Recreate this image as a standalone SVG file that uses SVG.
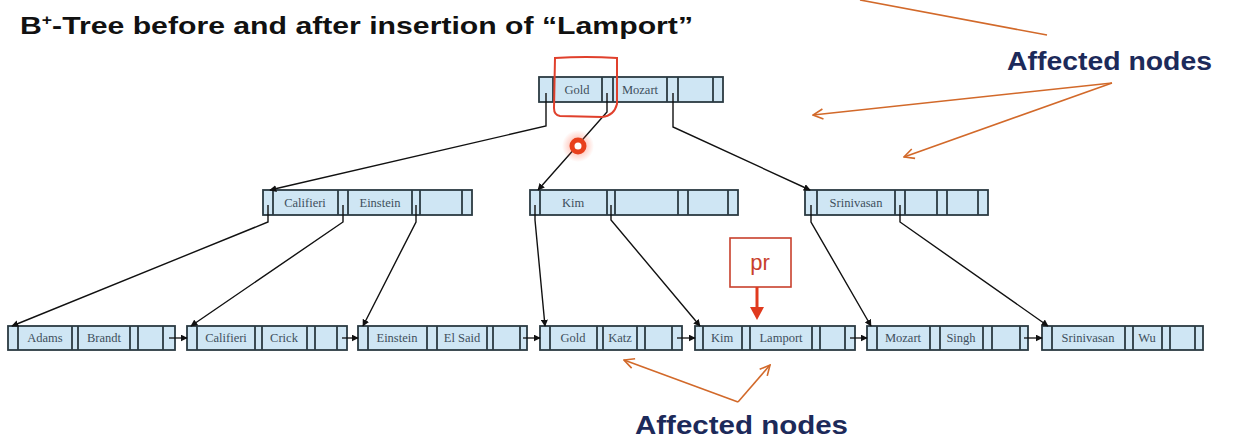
<svg xmlns="http://www.w3.org/2000/svg" width="1246" height="446" viewBox="0 0 1246 446">
<style>
.nb{fill:#cfe6f4;stroke:#2b3a42;stroke-width:1.8}
.dv{stroke:#2b3a42;stroke-width:1.8}
.k{font-family:"Liberation Serif",serif;font-size:12.5px;fill:#3e4f5c;text-anchor:middle}
.e{fill:none;stroke:#111;stroke-width:1.4}
.ln{fill:none;stroke:#111;stroke-width:1.3}
.or{fill:none;stroke:#d2692a;stroke-width:1.6}
.af{font-family:"Liberation Sans",Arial,sans-serif;font-weight:bold;font-size:25px;fill:#1c2a5a}
</style>
<defs>
<marker id="ah" viewBox="0 0 10 10" refX="9" refY="5" markerWidth="7" markerHeight="7" markerUnits="userSpaceOnUse" orient="auto"><path d="M0,0 L10,5 L0,10 Z" fill="#111"/></marker>
<marker id="oh" viewBox="0 0 12 12" refX="11" refY="6" markerWidth="12" markerHeight="12" markerUnits="userSpaceOnUse" orient="auto"><path d="M1,1 L11,6 L1,11" fill="none" stroke="#d2692a" stroke-width="1.6"/></marker>
<radialGradient id="glow"><stop offset="0" stop-color="#ff5533" stop-opacity="0.55"/><stop offset="1" stop-color="#ff5533" stop-opacity="0"/></radialGradient>
</defs>
<rect width="1246" height="446" fill="#fff"/>
<text x="20" y="34" font-family="Liberation Sans,Arial,sans-serif" font-weight="bold" font-size="24" fill="#111" textLength="673" lengthAdjust="spacingAndGlyphs">B<tspan font-size="14" dy="-9">+</tspan><tspan dy="9">-Tree before and after insertion of “Lamport”</tspan></text>

<g id="root">
<rect class="nb" x="539" y="77" width="184" height="25"/>
<path class="dv" d="M553,77V102M602,77V102M613,77V102M667,77V102M678,77V102M713,77V102"/>
<text class="k" x="577" y="94">Gold</text><text class="k" x="640" y="94">Mozart</text>
</g>
<g id="int-califieri">
<rect class="nb" x="263" y="190" width="209" height="25"/>
<path class="dv" d="M273,190V215M338,190V215M348,190V215M412,190V215M420,190V215M462,190V215"/>
<text class="k" x="305" y="207">Califieri</text><text class="k" x="380" y="207">Einstein</text>
</g>
<g id="int-kim">
<rect class="nb" x="530" y="190" width="208" height="25"/>
<path class="dv" d="M540,190V215M607,190V215M615,190V215M678,190V215M688,190V215M728,190V215"/>
<text class="k" x="573" y="207">Kim</text>
</g>
<g id="int-srinivasan">
<rect class="nb" x="805" y="190" width="183" height="25"/>
<path class="dv" d="M817,190V215M895,190V215M905,190V215M937,190V215M947,190V215M978,190V215"/>
<text class="k" x="856" y="207">Srinivasan</text>
</g>

<g id="leaf-adams">
<rect class="nb" x="8" y="326" width="167" height="24"/>
<path class="dv" d="M18,326V350M72,326V350M78,326V350M130,326V350M138,326V350M163,326V350"/>
<text class="k" x="45" y="342">Adams</text><text class="k" x="104" y="342">Brandt</text>
</g>
<g id="leaf-califieri">
<rect class="nb" x="187" y="326" width="160" height="24"/>
<path class="dv" d="M197,326V350M255,326V350M262,326V350M307,326V350M315,326V350M337,326V350"/>
<text class="k" x="226" y="342">Califieri</text><text class="k" x="284" y="342">Crick</text>
</g>
<g id="leaf-einstein">
<rect class="nb" x="358" y="326" width="169" height="24"/>
<path class="dv" d="M368,326V350M427,326V350M437,326V350M487,326V350M493,326V350M520,326V350"/>
<text class="k" x="397" y="342">Einstein</text><text class="k" x="462" y="342">El Said</text>
</g>
<g id="leaf-gold">
<rect class="nb" x="540" y="326" width="142" height="24"/>
<path class="dv" d="M550,326V350M597,326V350M603,326V350M637,326V350M645,326V350M672,326V350"/>
<text class="k" x="573" y="342">Gold</text><text class="k" x="620" y="342">Katz</text>
</g>
<g id="leaf-kim">
<rect class="nb" x="695" y="326" width="160" height="24"/>
<path class="dv" d="M703,326V350M742,326V350M750,326V350M812,326V350M820,326V350M845,326V350"/>
<text class="k" x="722" y="342">Kim</text><text class="k" x="781" y="342">Lamport</text>
</g>
<g id="leaf-mozart">
<rect class="nb" x="867" y="326" width="161" height="24"/>
<path class="dv" d="M877,326V350M930,326V350M940,326V350M983,326V350M992,326V350M1020,326V350"/>
<text class="k" x="903" y="342">Mozart</text><text class="k" x="961" y="342">Singh</text>
</g>
<g id="leaf-srinivasan">
<rect class="nb" x="1042" y="326" width="161" height="24"/>
<path class="dv" d="M1052,326V350M1125,326V350M1133,326V350M1162,326V350M1170,326V350M1195,326V350"/>
<text class="k" x="1088" y="342">Srinivasan</text><text class="k" x="1147" y="342">Wu</text>
</g>

<g id="connectors">
<path class="e" marker-end="url(#ah)" d="M546,93V126L270,190"/>
<path class="e" marker-end="url(#ah)" d="M607,93V112L538,190"/>
<path class="e" marker-end="url(#ah)" d="M673,93V127L810,190"/>
<path class="e" marker-end="url(#ah)" d="M268,205V222L12,326"/>
<path class="e" marker-end="url(#ah)" d="M343,205V222L191,326"/>
<path class="e" marker-end="url(#ah)" d="M416,205V222L363,326"/>
<path class="e" marker-end="url(#ah)" d="M535,205V220L545,326"/>
<path class="e" marker-end="url(#ah)" d="M611,205V220L700,326"/>
<path class="e" marker-end="url(#ah)" d="M811,205V222L871,326"/>
<path class="e" marker-end="url(#ah)" d="M900,205V222L1048,326"/>
<path class="ln" marker-end="url(#ah)" d="M169,338H187"/>
<path class="ln" marker-end="url(#ah)" d="M342,338H358"/>
<path class="ln" marker-end="url(#ah)" d="M523,338H540"/>
<path class="ln" marker-end="url(#ah)" d="M677,338H695"/>
<path class="ln" marker-end="url(#ah)" d="M850,338H867"/>
<path class="ln" marker-end="url(#ah)" d="M1024,338H1042"/>
</g>

<g id="annotations">
<path d="M555,58 Q586,56 617,58 L617,104 Q614,116 602,117 L560,116 Q554,115 554,108 Z" fill="none" stroke="#e0402c" stroke-width="2"/>
<circle cx="578" cy="146" r="16" fill="url(#glow)"/>
<circle cx="578" cy="146" r="8.5" fill="#e8401c"/>
<circle cx="578" cy="146" r="3.5" fill="#fff"/>
<rect x="730" y="238" width="61" height="49" fill="#fff" stroke="#c8402c" stroke-width="1.6"/>
<text x="760" y="270" font-family="Liberation Sans,Arial,sans-serif" font-size="22" fill="#c8402c" text-anchor="middle">pr</text>
<path d="M757,287V310" stroke="#e03a1e" stroke-width="3"/>
<path d="M750,307H764L757,320Z" fill="#e03a1e"/>
<path class="or" d="M860,0L1047,35"/>
<path class="or" marker-end="url(#oh)" d="M1112,83L813,115"/>
<path class="or" marker-end="url(#oh)" d="M1112,83L904,157"/>
<path class="or" marker-end="url(#oh)" d="M738,402L624,360"/>
<path class="or" marker-end="url(#oh)" d="M738,402L770,365"/>
<text class="af" x="1007" y="70" textLength="205" lengthAdjust="spacingAndGlyphs">Affected nodes</text>
<text class="af" x="635" y="434" textLength="213" lengthAdjust="spacingAndGlyphs">Affected nodes</text>
</g>
</svg>
